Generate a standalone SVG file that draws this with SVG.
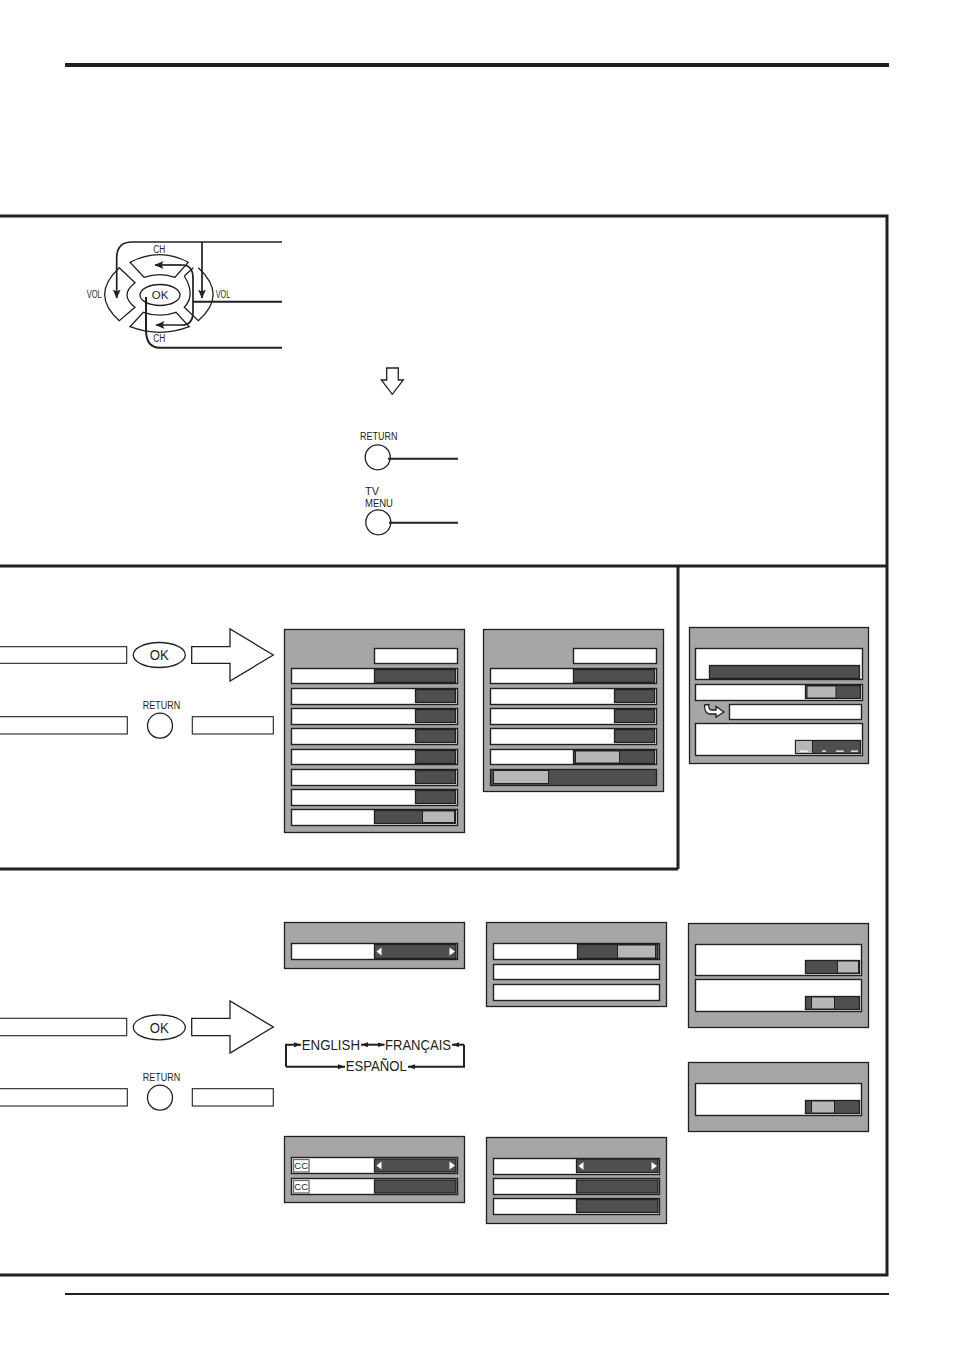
<svg xmlns="http://www.w3.org/2000/svg" width="954" height="1356" viewBox="0 0 954 1356">
<style>
.f{fill:none;stroke:#231f20;stroke-width:3}
.l{fill:none;stroke:#231f20;stroke-width:1.300}
.n{fill:none;stroke:#231f20;stroke-width:1.700}
.c{fill:none;stroke:#231f20;stroke-width:2}
.w{fill:#fff;stroke:#231f20;stroke-width:1.100}
.p{fill:#a7a5a6;stroke:#231f20;stroke-width:1.300}
.r{fill:#fff;stroke:#231f20;stroke-width:1.400}
.d{fill:#504e4f;stroke:#231f20;stroke-width:1.300}
.g{fill:#b7b6b6;stroke:#231f20;stroke-width:1}
.t{font-family:"Liberation Sans",Arial,sans-serif;fill:#231f20}
.s{font-size:10px}
.m{font-size:11.500px}
.o{font-size:15px}
.e{font-size:13.800px}
.tri{fill:#fff}
.a{fill:#231f20}
</style>
<defs>
<marker id="ah" markerWidth="10" markerHeight="10" refX="8.500" refY="4" orient="auto" markerUnits="userSpaceOnUse"><path d="M0,0L9,4L0,8L2,4z" class="a"/></marker>
<marker id="ph" markerWidth="10" markerHeight="10" refX="8.500" refY="4" orient="auto" markerUnits="userSpaceOnUse"><path d="M0,0L9,4L0,8L2,4z" class="a"/></marker>
<marker id="lh" markerWidth="8" markerHeight="6" refX="7" refY="2.500" orient="auto" markerUnits="userSpaceOnUse"><path d="M0,0L7,2.500L0,5z" class="a"/></marker>
</defs>
<rect width="954" height="1356" fill="#fff"/>
<g id="rules">
<rect x="65" y="63" width="824" height="4" fill="#231f20"/>
<rect x="65" y="1293" width="824" height="2" fill="#231f20"/>
</g>
<g id="frame">
<path class="f" d="M0,216H887V1275H0M0,566H887M678,566V869M0,869H678"/>
</g>
<g id="remote-pad">
<path class="l" d="M130,262.300Q160,247 188.300,262.300L175,277.300Q160,272 144,277.300Z"/>
<path class="l" d="M130,326.700L143.300,312.300Q160,318 176,312.300L189.300,326.700Q160,338 130,326.700Z"/>
<path class="l" d="M119.300,267.700L135,282.700Q119,295 135,307.300L119.300,320.700Q90,295 119.300,267.700Z"/>
<path class="l" d="M193.300,267.700L184.300,276M184.300,276Q196,295 184.300,307.300L198.300,320.700Q228,295 198.300,267.700"/>
<ellipse cx="160" cy="295" rx="20" ry="10.500" class="l"/>
<text class="t" x="160" y="299" font-size="11.500" text-anchor="middle">OK</text>
<text class="t s" x="153.300" y="253.300" textLength="12" lengthAdjust="spacingAndGlyphs">CH</text>
<text class="t s" x="153.300" y="341.700" textLength="12" lengthAdjust="spacingAndGlyphs">CH</text>
<text class="t s" x="86.700" y="297.700" textLength="15" lengthAdjust="spacingAndGlyphs">VOL</text>
<text class="t s" x="215.700" y="297.700" textLength="14.500" lengthAdjust="spacingAndGlyphs">VOL</text>
</g>
<g id="down-arrow">
<path class="l" d="M386.700,368H398.300V380H403.300L392.300,394.300L381.300,380H386.700Z"/>
</g>
<g id="return-button">
<text class="t m" x="360" y="440" textLength="37.500" lengthAdjust="spacingAndGlyphs">RETURN</text>
<circle cx="377.700" cy="457.300" r="12.500" class="l"/>
</g>
<g id="tvmenu-button">
<text class="t m" x="365" y="495" textLength="14" lengthAdjust="spacingAndGlyphs">TV</text>
<text class="t m" x="365" y="506.700" textLength="28" lengthAdjust="spacingAndGlyphs">MENU</text>
<circle cx="378.300" cy="522.300" r="12.500" class="l"/>
</g>
<g id="connectors">
<path class="c" d="M388,458.700H458M389,522.700H458M193,301.700H282M282,347.700H160Q146,347.700 146,330V297"/>
<path class="n" d="M282,242H132Q116.700,242 116.700,258V298" marker-end="url(#ah)"/>
<path class="n" d="M202,242V298" marker-end="url(#ah)"/>
<path class="n" d="M182,265H155" marker-end="url(#ph)"/>
<path class="n" d="M182,265Q193,265 193,278V312Q193,325 182,325H156" marker-end="url(#ph)"/>
</g>
<g id="picture-controls">
<rect class="w" x="-2" y="646.700" width="128.700" height="16.600"/>
<ellipse class="l" cx="159.300" cy="655" rx="26" ry="12.500"/>
<text class="t o" x="149.800" y="660.400" textLength="19" lengthAdjust="spacingAndGlyphs">OK</text>
<path class="l" d="M191.700,646.700H230V629L273.300,655L230,681V663.300H191.700Z"/>
<rect class="w" x="-2" y="716.700" width="129.300" height="17.300"/>
<text class="t m" x="142.700" y="709" textLength="37.500" lengthAdjust="spacingAndGlyphs">RETURN</text>
<circle class="l" cx="160" cy="725.700" r="12.500"/>
<rect class="w" x="192.300" y="716.700" width="81" height="17.300"/>
</g>
<g id="setup-controls">
<rect class="w" x="-2" y="1018.300" width="128.700" height="17.400"/>
<ellipse class="l" cx="159.300" cy="1027.300" rx="26" ry="12.500"/>
<text class="t o" x="149.800" y="1032.700" textLength="19" lengthAdjust="spacingAndGlyphs">OK</text>
<path class="l" d="M191.700,1018.300H230V1001L273.300,1027L230,1053V1035.700H191.700Z"/>
<rect class="w" x="-2" y="1088.700" width="129.300" height="17.300"/>
<text class="t m" x="142.700" y="1081" textLength="37.500" lengthAdjust="spacingAndGlyphs">RETURN</text>
<circle class="l" cx="160" cy="1097.700" r="12.500"/>
<rect class="w" x="192.300" y="1088.700" width="81" height="17.300"/>
</g>
<g id="menu-1">
<rect class="p" x="284.500" y="629.500" width="180" height="203"/>
<rect class="r" x="374.500" y="648.500" width="83" height="15"/>
<rect class="r" x="291.500" y="668.500" width="166" height="15"/><rect class="d" x="374.500" y="669.500" width="81" height="13"/>
<rect class="r" x="291.500" y="688.500" width="166" height="16"/><rect class="d" x="415.500" y="689.500" width="40" height="13"/>
<rect class="r" x="291.500" y="708.500" width="166" height="16"/><rect class="d" x="415.500" y="709.500" width="40" height="13"/>
<rect class="r" x="291.500" y="728.500" width="166" height="16"/><rect class="d" x="415.500" y="729.500" width="40" height="13"/>
<rect class="r" x="291.500" y="749.500" width="166" height="15"/><rect class="d" x="415.500" y="750.500" width="40" height="13"/>
<rect class="r" x="291.500" y="769.500" width="166" height="16"/><rect class="d" x="415.500" y="770.500" width="40" height="13"/>
<rect class="r" x="291.500" y="789.500" width="166" height="16"/><rect class="d" x="415.500" y="790.500" width="40" height="13"/>
<rect class="r" x="291.500" y="809.500" width="166" height="16"/><rect class="d" x="374.500" y="810.500" width="81" height="13"/><rect class="g" x="422.500" y="811" width="32" height="11.500"/>
</g>
<g id="menu-2">
<rect class="p" x="483.500" y="629.500" width="180" height="162"/>
<rect class="r" x="573.500" y="648.500" width="83" height="15"/>
<rect class="r" x="490.500" y="668.500" width="166" height="15"/><rect class="d" x="573.500" y="669.500" width="81" height="13"/>
<rect class="r" x="490.500" y="688.500" width="166" height="16"/><rect class="d" x="614.500" y="689.500" width="40" height="13"/>
<rect class="r" x="490.500" y="708.500" width="166" height="16"/><rect class="d" x="614.500" y="709.500" width="40" height="13"/>
<rect class="r" x="490.500" y="728.500" width="166" height="16"/><rect class="d" x="614.500" y="729.500" width="40" height="13"/>
<rect class="r" x="490.500" y="749.500" width="166" height="15"/><rect class="d" x="573.500" y="750.500" width="81" height="13"/><rect class="g" x="575.500" y="751" width="44" height="12"/>
<rect class="d" x="490.500" y="769.500" width="166" height="16"/><rect class="g" x="493.500" y="770.500" width="55" height="13"/>
</g>
<g id="menu-3">
<rect class="p" x="689.500" y="627.500" width="179" height="136"/>
<rect class="r" x="695.500" y="648.500" width="167" height="31"/><rect class="d" x="709.500" y="665.500" width="150" height="13"/>
<rect class="r" x="695.500" y="684.500" width="167" height="16"/><rect class="d" x="805.500" y="685.500" width="55" height="13"/><rect class="g" x="807" y="686" width="29" height="12"/>
<path fill="#fff" stroke="#231f20" stroke-width="1.300" d="M704.500,705L709,704.500Q708,710 712,710H716V706.500L724,712L716,717V714H710Q704.500,714 704.500,705Z"/>
<rect class="r" x="729.500" y="704.500" width="132" height="15"/>
<rect class="r" x="695.500" y="723.500" width="167" height="32"/><rect class="d" x="795.500" y="740.500" width="65" height="13"/><rect class="g" x="795.500" y="740.500" width="17" height="13"/>
<path d="M800,751.200H807.700M822,751.200H826M836,751.200H843.700M851,751.200H858" stroke="#fff" stroke-width="1.300" fill="none"/>
</g>
<g id="menu-4">
<rect class="p" x="284.500" y="922.500" width="180" height="46"/>
<rect class="r" x="291.500" y="943.500" width="166" height="16"/><rect class="d" x="374.500" y="944.500" width="81.500" height="14"/>
<path class="tri" d="M381.500,947.500V955.500L376.500,951.500ZM449.500,947.500V955.500L455,951.500Z"/>
</g>
<g id="language-cycle">
<text class="t e" x="301.700" y="1049.700" textLength="58.300" lengthAdjust="spacingAndGlyphs">ENGLISH</text>
<text class="t e" x="385" y="1049.700" textLength="66" lengthAdjust="spacingAndGlyphs">FRANÇAIS</text>
<text class="t e" x="345.700" y="1071" textLength="61" lengthAdjust="spacingAndGlyphs">ESPAÑOL</text>
<path class="c" d="M286,1066.700V1044.700H301" marker-end="url(#lh)"/>
<path class="c" d="M286,1066.700H345" marker-end="url(#lh)"/>
<path class="c" d="M371,1044.700H361" marker-end="url(#lh)"/>
<path class="c" d="M371,1044.700H384.500" marker-end="url(#lh)"/>
<path class="c" d="M464,1044.700H452" marker-end="url(#lh)"/>
<path class="c" d="M464,1044.700V1066.700H408" marker-end="url(#lh)"/>
</g>
<g id="menu-5">
<rect class="p" x="486.500" y="922.500" width="180" height="84"/>
<rect class="r" x="493.500" y="943.500" width="166" height="16"/><rect class="d" x="577.500" y="944.500" width="80.500" height="14"/><rect class="g" x="617.500" y="945" width="38" height="13"/>
<rect class="r" x="493.500" y="964.500" width="166" height="15"/>
<rect class="r" x="493.500" y="984.500" width="166" height="16"/>
</g>
<g id="menu-6">
<rect class="p" x="688.500" y="923.500" width="180" height="104"/>
<rect class="r" x="695.500" y="944.500" width="166" height="31"/><rect class="d" x="805.500" y="960.500" width="54" height="13"/><rect class="g" x="837.500" y="961" width="21" height="12"/>
<rect class="r" x="695.500" y="979.500" width="166" height="32"/><rect class="d" x="805.500" y="996.500" width="54" height="13"/><rect class="g" x="811.500" y="997" width="23" height="12"/>
</g>
<g id="menu-7">
<rect class="p" x="688.500" y="1062.500" width="180" height="69"/>
<rect class="r" x="695.500" y="1083.500" width="166" height="32"/><rect class="d" x="805.500" y="1100.500" width="54" height="13"/><rect class="g" x="811.500" y="1101" width="23" height="12"/>
</g>
<g id="menu-8">
<rect class="p" x="284.500" y="1136.500" width="180" height="66"/>
<rect class="r" x="291.500" y="1157.500" width="166" height="16"/><rect class="d" x="374.500" y="1159" width="81.500" height="13"/>
<rect class="r" x="291.500" y="1178.500" width="166" height="16"/><rect class="d" x="374.500" y="1180" width="81.500" height="13"/>
<path class="tri" d="M381.500,1161.500V1169.500L376.500,1165.500ZM449.500,1161.500V1169.500L455,1165.500Z"/>
<rect x="293.500" y="1159.500" width="15.500" height="12.500" fill="#fff" stroke="#6d6b6c" stroke-width="1.300"/>
<text class="t" x="301.200" y="1169" font-size="9.500" text-anchor="middle">CC</text>
<rect x="293.500" y="1180.500" width="15.500" height="12.500" fill="#fff" stroke="#6d6b6c" stroke-width="1.300"/>
<text class="t" x="301.200" y="1190" font-size="9.500" text-anchor="middle">CC</text>
</g>
<g id="menu-9">
<rect class="p" x="486.500" y="1137.500" width="180" height="86"/>
<rect class="r" x="493.500" y="1158.500" width="166" height="16"/><rect class="d" x="576.500" y="1159" width="81.500" height="13.500"/>
<path class="tri" d="M583.500,1162V1170L578.500,1166ZM651.500,1162V1170L657,1166Z"/>
<rect class="r" x="493.500" y="1178.500" width="166" height="16"/><rect class="d" x="576.500" y="1180" width="81.500" height="13"/>
<rect class="r" x="493.500" y="1198.500" width="166" height="16"/><rect class="d" x="576.500" y="1199.500" width="81.500" height="13"/>
</g>
</svg>
